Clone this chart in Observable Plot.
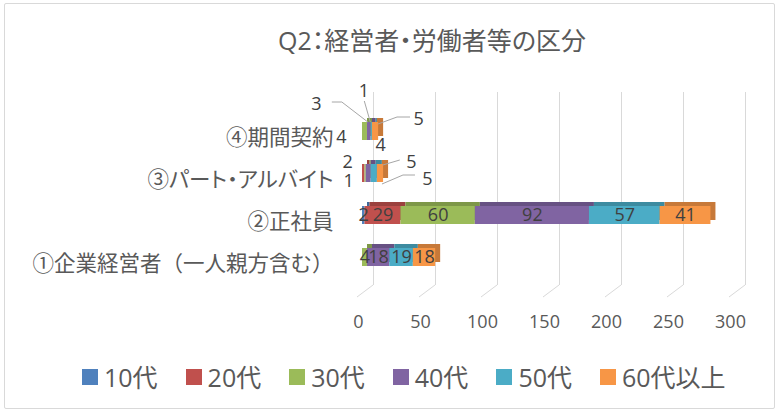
<!DOCTYPE html>
<html><head><meta charset="utf-8">
<script src="https://cdn.jsdelivr.net/npm/d3@7"></script>
<script src="https://cdn.jsdelivr.net/npm/@observablehq/plot@0.6"></script>
<style>
body{margin:0;background:#fff;}
#chart{position:relative;width:779px;height:412px;font-family:"Open Sans","Noto Sans CJK JP",sans-serif;color:#595959;overflow:hidden;background:#fff}
#frame{position:absolute;left:4px;top:3px;right:4px;bottom:3px;border:1px solid #d9d9d9;border-radius:2px}
#title{position:absolute;left:85px;width:694px;top:26px;text-align:center;font-size:25px;line-height:28px;white-space:nowrap;font-feature-settings:"palt"}
#plot{position:absolute;left:0;top:70px}
#legend{position:absolute;left:82px;top:362px;display:flex;gap:28px;font-size:25px;line-height:30px}
.item{display:flex;align-items:center;gap:6px}
.sw{width:16px;height:16px;display:inline-block}
</style></head>
<body>
<div id="chart"><div id="frame"></div><div id="title">Q2：経営者・労働者等の区分</div><div id="plot"></div><div id="legend"></div></div>
<script>
// ---- data ----
const categories = ["①企業経営者（一人親方含む）", "②正社員", "③パート・アルバイト", "④期間契約"];
const series = ["10代", "20代", "30代", "40代", "50代", "60代以上"];
const v10 = [0, 2, 0, 0];
const v20 = [0, 29, 2, 0];
const v30 = [4, 60, 1, 4];
const v40 = [18, 92, 4, 3];
const v50 = [19, 57, 5, 1];
const v60 = [18, 41, 5, 5];
const xTicks = [0, 50, 100, 150, 200, 250, 300];

// ---- style ----
const colors = ["#4F81BD", "#C0504D", "#9BBB59", "#8064A2", "#4BACC6", "#F79646"];
const values = [v10, v20, v30, v40, v50, v60];
// pixel nudges for crowded labels [dx, dy] and leader line points relative to anchor
const nudges = {
  "④期間契約|30代": {d: [-23.5, 6]},
  "④期間契約|40代": {d: [-53, -27], lead: [[-37, -29], [-27, -29], [-1, -9]]},
  "④期間契約|50代": {d: [-8, -40], lead: [[-7, -30], [-1, -9]]},
  "④期間契約|60代以上": {d: [43, -12], lead: [[35, -14], [22, -14], [3, -7]]},
  "③パート・アルバイト|20代": {d: [-16, -11]},
  "③パート・アルバイト|30代": {d: [-17, 8]},
  "③パート・アルバイト|40代": {d: [12, -28]},
  "③パート・アルバイト|50代": {d: [37, -11], lead: [[26, -13], [9, -8]]},
  "③パート・アルバイト|60代以上": {d: [47, 6], lead: [[35, 2], [23, 2], [2, 11]]}
};

// build stacked rows
const rows = [];
categories.forEach((c, ci) => {
  let acc = 0;
  series.forEach((s, si) => {
    const v = values[si][ci];
    rows.push({cat: c, series: s, si, value: v, x1: acc, x2: acc + v, mid: acc + v / 2});
    acc += v;
  });
});
const labelRows = rows.filter(d => d.value > 0);
const plainLabels = labelRows.filter(d => !nudges[d.cat + "|" + d.series]);
const nudgedLabels = labelRows.filter(d => nudges[d.cat + "|" + d.series]);

const ff = '"Open Sans","Noto Sans CJK JP",sans-serif';
const marks = [
  Plot.ruleX(xTicks, {stroke: "#d9d9d9", dx: 11, insetTop: -6, insetBottom: 5}),
  Plot.axisX({ticks: xTicks, tickSize: 0, tickPadding: 25, dx: -4, fontSize: 18, label: null, fill: "#595959"}),
  Plot.axisY({tickSize: 0, tickPadding: 29, dy: 7, fontSize: 21.5, label: null, fill: "#595959"})
];
series.forEach((s, si) => {
  marks.push(Plot.barX(rows.filter(d => d.si === si && d.value > 0), {x1: "x1", x2: "x2", y: "cat", fill: d3.color(colors[si]).darker(0.6).formatHex(), dx: 5, dy: -4}));
});
series.forEach((s, si) => {
  marks.push(Plot.barX(rows.filter(d => d.si === si && d.value > 0), {x1: "x1", x2: "x2", y: "cat", fill: colors[si]}));
});
marks.push(Plot.text(plainLabels, {x: "mid", y: "cat", text: d => String(d.value), fontSize: 18, fill: "#404040"}));
nudgedLabels.forEach(d => {
  const n = nudges[d.cat + "|" + d.series];
  marks.push(Plot.text([d], {x: "mid", y: "cat", text: d => String(d.value), fontSize: 18, fill: "#404040", dx: n.d[0], dy: n.d[1]}));
});

const plot = Plot.plot({
  width: 779, height: 270,
  marginLeft: 362, marginRight: 45, marginTop: 28, marginBottom: 50,
  style: {fontFamily: ff, background: "transparent", overflow: "visible"},
  x: {domain: [0, 300]},
  y: {domain: categories.slice().reverse(), padding: 0.56},
  marks
});
document.getElementById("plot").appendChild(plot);

// proportional CJK punctuation for the label containing a middle dot
d3.select(plot).selectAll("text").filter(function() { return this.textContent.includes("・"); })
  .style("font-feature-settings", '"palt"');

// leader lines and floor diagonals using plot scales
const xs = plot.scale("x"), ys = plot.scale("y");
const svg = d3.select(plot);
const g = svg.append("g").attr("fill", "none").attr("stroke", "#a6a6a6").attr("stroke-width", 1);
nudgedLabels.forEach(d => {
  const n = nudges[d.cat + "|" + d.series];
  if (!n.lead) return;
  const ax = xs.apply(d.mid), ay = ys.apply(d.cat) + ys.bandwidth / 2;
  g.append("polyline").attr("points", n.lead.map(p => (ax + p[0]) + "," + (ay + p[1])).join(" "));
});
const bottom = 270 - 50;
const fg = svg.insert("g", ":first-child").attr("stroke", "#d9d9d9");
xTicks.forEach(t => {
  const x = xs.apply(t);
  fg.append("line").attr("x1", x + 11).attr("y1", bottom - 5).attr("x2", x - 5).attr("y2", bottom + 7);
});

// legend
const leg = d3.select("#legend");
series.forEach((s, si) => {
  const it = leg.append("div").attr("class", "item");
  it.append("span").attr("class", "sw").style("background", colors[si]);
  it.append("span").text(s);
});
</script>
</body></html>
